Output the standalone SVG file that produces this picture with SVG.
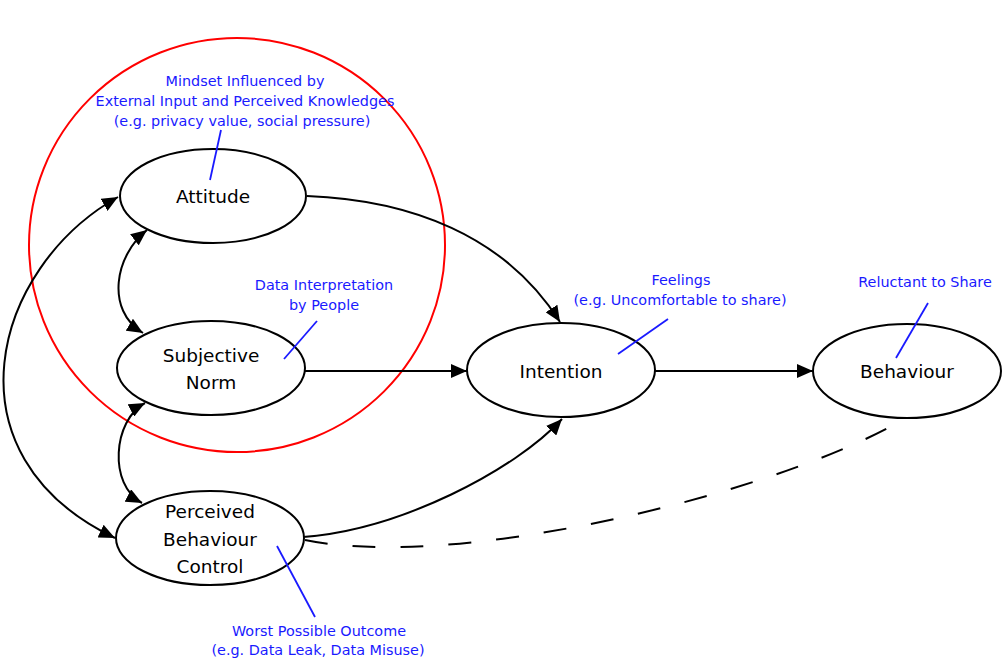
<svg xmlns="http://www.w3.org/2000/svg" width="1002" height="660" viewBox="0 0 1002 660">
<style>
.node ellipse{fill:#fff;stroke:#000;stroke-width:2}
.node text{font-family:"DejaVu Sans",Verdana,sans-serif;font-size:18.5px;fill:#000;text-anchor:middle}
.note text{font-family:"DejaVu Sans",Verdana,sans-serif;font-size:14.4px;fill:#1a1aff;text-anchor:middle}
.note line{stroke:#1a1aff;stroke-width:1.8}
.conn path{fill:none;stroke:#000;stroke-width:2}
.dash{stroke-dasharray:23 25}
</style>
<defs>
<marker id="ah" markerUnits="userSpaceOnUse" markerWidth="17" markerHeight="14" viewBox="0 0 17 14" refX="16" refY="7" orient="auto-start-reverse">
<path d="M0,0 L16,7 L0,14 z" fill="#000"/>
</marker>
</defs>
<rect width="1002" height="660" fill="#fff"/>
<ellipse id="group-circle" cx="237" cy="245" rx="208" ry="207" fill="none" stroke="#ff0000" stroke-width="2"/>
<g id="connectors" class="conn">
<path d="M307,196 C410,200 505,235 560,322" marker-end="url(#ah)"/>
<path d="M305,371 L467,371" marker-end="url(#ah)"/>
<path d="M303,537 C400,530 515,470 562,419" marker-end="url(#ah)"/>
<path d="M655,371 L813,371" marker-end="url(#ah)"/>
<path d="M147,230 C115,255 105,310 143,333" marker-start="url(#ah)" marker-end="url(#ah)"/>
<path d="M145,403 C113,420 108,485 142,503" marker-start="url(#ah)" marker-end="url(#ah)"/>
<path d="M118,197 C-8,268 -58,455 115,538" marker-start="url(#ah)" marker-end="url(#ah)"/>
<path class="dash" d="M305,540 C450,570 750,500 888,428"/>
</g>
<g id="attitude" class="node">
<ellipse cx="213" cy="196" rx="93" ry="47"/>
<text x="213" y="203">Attitude</text>
</g>
<g id="subjective-norm" class="node">
<ellipse cx="211" cy="368" rx="94" ry="47"/>
<text x="211" y="362">Subjective</text>
<text x="211" y="389">Norm</text>
</g>
<g id="perceived-behaviour-control" class="node">
<ellipse cx="210" cy="538" rx="94" ry="47"/>
<text x="210" y="518">Perceived</text>
<text x="210" y="546">Behaviour</text>
<text x="210" y="573">Control</text>
</g>
<g id="intention" class="node">
<ellipse cx="561" cy="370" rx="94" ry="47"/>
<text x="561" y="378">Intention</text>
</g>
<g id="behaviour" class="node">
<ellipse cx="907" cy="371" rx="94" ry="47"/>
<text x="907" y="378">Behaviour</text>
</g>
<g id="note-mindset" class="note">
<text x="245" y="86">Mindset Influenced by</text>
<text x="245" y="106">External Input and Perceived Knowledges</text>
<text x="242" y="126">(e.g. privacy value, social pressure)</text>
<line x1="221" y1="130" x2="210" y2="180" stroke-width="2.5"/>
</g>
<g id="note-data" class="note">
<text x="324" y="290">Data Interpretation</text>
<text x="324" y="310">by People</text>
<line x1="317" y1="321" x2="284" y2="359"/>
</g>
<g id="note-feelings" class="note">
<text x="681" y="285">Feelings</text>
<text x="680" y="305">(e.g. Uncomfortable to share)</text>
<line x1="668" y1="319" x2="618" y2="354"/>
</g>
<g id="note-reluctant" class="note">
<text x="925" y="287">Reluctant to Share</text>
<line x1="928" y1="303" x2="896" y2="358"/>
</g>
<g id="note-worst" class="note">
<text x="319" y="636">Worst Possible Outcome</text>
<text x="318" y="655">(e.g. Data Leak, Data Misuse)</text>
<line x1="315" y1="617" x2="277" y2="546"/>
</g>
</svg>
